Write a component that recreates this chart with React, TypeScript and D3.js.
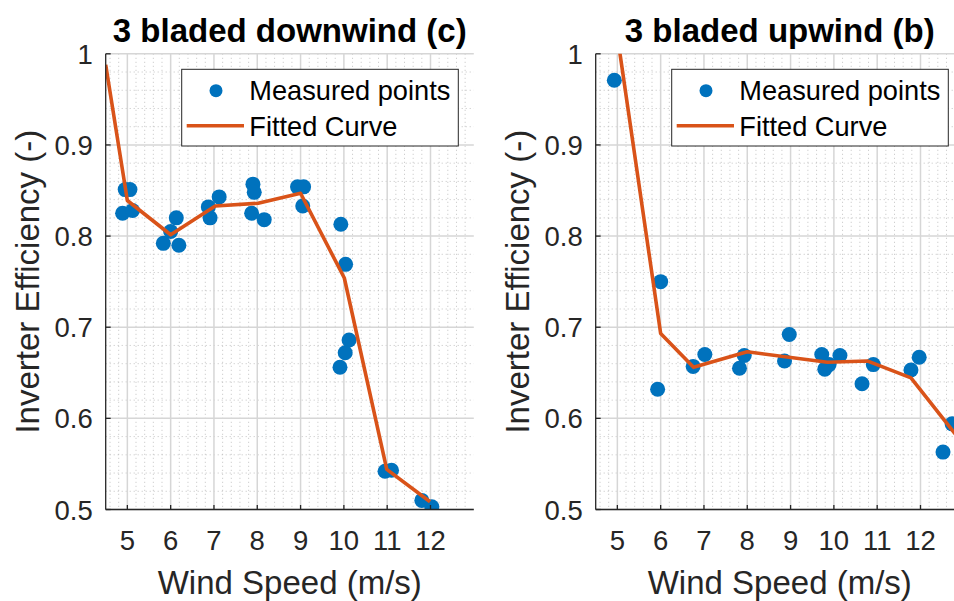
import React from 'react';
import * as d3 from 'd3';

// ---- data ----
const xTicks = [5, 6, 7, 8, 9, 10, 11, 12];
const xTickLabels = ['5', '6', '7', '8', '9', '10', '11', '12'];
const yTicks = [0.5, 0.6, 0.7, 0.8, 0.9, 1];
const yTickLabels = ['0.5', '0.6', '0.7', '0.8', '0.9', '1'];

const downMeasX = [4.95, 5.06, 4.89, 5.12, 5.83, 6.0, 6.19, 6.13, 6.87, 6.91, 7.12, 7.9, 7.93, 7.87, 8.16, 8.93, 9.07, 9.05, 9.93, 10.04, 10.12, 10.03, 9.91, 10.95, 11.1, 11.8, 12.03];
const downMeasY = [0.851, 0.851, 0.825, 0.828, 0.792, 0.805, 0.790, 0.820, 0.832, 0.820, 0.843, 0.857, 0.848, 0.825, 0.818, 0.854, 0.854, 0.833, 0.813, 0.769, 0.686, 0.672, 0.656, 0.542, 0.543, 0.510, 0.503];
const downFitX = [4.5, 5, 6, 7.03, 8.02, 9.0, 10.01, 10.99, 11.99];
const downFitY = [0.988, 0.839, 0.8015, 0.833, 0.836, 0.847, 0.754, 0.544, 0.5085];

const upMeasX = [4.93, 6.0, 5.93, 6.75, 7.02, 7.82, 7.93, 8.86, 8.97, 9.72, 9.79, 9.89, 10.14, 10.65, 10.91, 11.78, 11.97, 12.52, 12.73];
const upMeasY = [0.971, 0.75, 0.632, 0.657, 0.670, 0.655, 0.669, 0.663, 0.692, 0.670, 0.654, 0.659, 0.669, 0.638, 0.659, 0.653, 0.667, 0.563, 0.594];
const upFitX = [5, 6, 6.76, 8, 9.85, 10.77, 11.78, 12.8];
const upFitY = [1.02, 0.693, 0.656, 0.673, 0.6615, 0.663, 0.6444, 0.583];

const legendLabels = ['Measured points', 'Fitted Curve'];
const xLabel = 'Wind Speed (m/s)';
const yLabel = 'Inverter Efficiency (-)';

// ---- style ----
const BLUE = '#0072BD';
const ORANGE = '#D95319';
const AX = '#262626';
const FONT = '"Liberation Sans", Arial, Helvetica, sans-serif';

const TOP = 53.8;
const BOTTOM = 509.5;
const WIDTH = 368.1;

type PanelProps = {
  id: string;
  left: number;
  title: string;
  mx: number[];
  my: number[];
  fx: number[];
  fy: number[];
};

function Panel({ id, left, title, mx, my, fx, fy }: PanelProps) {
  const x = d3.scaleLinear().domain([4.5, 13]).range([left, left + WIDTH]);
  const y = d3.scaleLinear().domain([0.5, 1]).range([BOTTOM, TOP]);
  const minorX = d3.range(4.6, 12.99, 0.2).filter((v) => Math.abs(v - Math.round(v)) > 0.01);
  const minorY = d3.range(0.52, 0.99, 0.02).filter((v) => Math.abs(v * 10 - Math.round(v * 10)) > 0.01);
  const line = d3
    .line<number>()
    .x((_, i) => x(fx[i]))
    .y((d) => y(d));
  const right = left + WIDTH;
  const lgW = 276.6;
  const lgL = right - 15.5 - lgW;
  const lgT = 69.3;
  const lgH = 76.7;
  return (
    <g>
      <defs>
        <clipPath id={id}>
          <rect x={left} y={TOP} width={WIDTH} height={BOTTOM - TOP} />
        </clipPath>
      </defs>
      <rect x={left} y={TOP} width={WIDTH} height={BOTTOM - TOP} fill="#fff" />
      {/* minor grid */}
      {minorX.map((v, i) => (
        <line key={'mx' + i} x1={x(v)} x2={x(v)} y1={TOP} y2={BOTTOM} stroke="#b0b0b0" strokeWidth={1} strokeDasharray="1 3" opacity={0.75} />
      ))}
      {minorY.map((v, i) => (
        <line key={'my' + i} x1={left} x2={right} y1={y(v)} y2={y(v)} stroke="#b0b0b0" strokeWidth={1} strokeDasharray="1 3" opacity={0.75} />
      ))}
      {/* major grid */}
      {xTicks.map((v, i) => (
        <line key={'gx' + i} x1={x(v)} x2={x(v)} y1={TOP} y2={BOTTOM} stroke="#d6d6d6" strokeWidth={1.5} />
      ))}
      {yTicks.map((v, i) => (
        <line key={'gy' + i} x1={left} x2={right} y1={y(v)} y2={y(v)} stroke="#d6d6d6" strokeWidth={1.5} />
      ))}
      {/* data */}
      <g clipPath={`url(#${id})`}>
        {mx.map((v, i) => (
          <circle key={'p' + i} cx={x(v)} cy={y(my[i])} r={7.5} fill={BLUE} />
        ))}
        <path d={line(fy) || ''} fill="none" stroke={ORANGE} strokeWidth={3.6} strokeLinejoin="round" />
      </g>
      {/* axes */}
      <line x1={left} x2={left} y1={TOP} y2={BOTTOM} stroke={AX} strokeWidth={1.3} />
      <line x1={left} x2={right} y1={BOTTOM} y2={BOTTOM} stroke={AX} strokeWidth={1.3} />
      {xTicks.map((v, i) => (
        <line key={'tx' + i} x1={x(v)} x2={x(v)} y1={BOTTOM} y2={BOTTOM - 4.5} stroke={AX} strokeWidth={1.3} />
      ))}
      {yTicks.map((v, i) => (
        <line key={'ty' + i} x1={left} x2={left + 5} y1={y(v)} y2={y(v)} stroke={AX} strokeWidth={1.3} />
      ))}
      {xTicks.map((v, i) => (
        <text key={'lx' + i} x={x(v)} y={550} textAnchor="middle" fontSize={27.5} fill={AX} fontFamily={FONT}>
          {xTickLabels[i]}
        </text>
      ))}
      {yTicks.map((v, i) => (
        <text key={'ly' + i} x={left - 13} y={y(v) + 10} textAnchor="end" fontSize={27.5} fill={AX} fontFamily={FONT}>
          {yTickLabels[i]}
        </text>
      ))}
      <text x={(left + right) / 2} y={594} textAnchor="middle" fontSize={33} fill={AX} fontFamily={FONT}>
        {xLabel}
      </text>
      <text
        transform={`translate(${left - 67},${(TOP + BOTTOM) / 2}) rotate(-90)`}
        textAnchor="middle"
        fontSize={33}
        fill={AX}
        fontFamily={FONT}
      >
        {yLabel}
      </text>
      <text x={(left + right) / 2} y={42} textAnchor="middle" fontSize={33} fontWeight="bold" fill="#000" fontFamily={FONT}>
        {title}
      </text>
      {/* legend */}
      <rect x={lgL} y={lgT} width={lgW} height={lgH} fill="#fff" stroke={AX} strokeWidth={1} />
      <circle cx={lgL + 34.3} cy={lgT + 21.4} r={6.5} fill={BLUE} />
      <line x1={lgL + 5} x2={lgL + 62.3} y1={lgT + 56.4} y2={lgT + 56.4} stroke={ORANGE} strokeWidth={3.6} />
      <text x={lgL + 67.6} y={lgT + 30.7} fontSize={27.2} fill="#000" fontFamily={FONT}>
        {legendLabels[0]}
      </text>
      <text x={lgL + 67.6} y={lgT + 66.7} fontSize={27.2} fill="#000" fontFamily={FONT}>
        {legendLabels[1]}
      </text>
    </g>
  );
}

export default function App() {
  return (
    <svg
      width={954}
      height={601}
      viewBox="0 0 954 601"
      style={{ position: 'absolute', left: 0, top: 0, background: '#fff' }}
    >
      <rect x={0} y={0} width={954} height={601} fill="#fff" />
      <Panel id="clipL" left={105.7} title="3 bladed downwind (c)" mx={downMeasX} my={downMeasY} fx={downFitX} fy={downFitY} />
      <Panel id="clipR" left={595.7} title="3 bladed upwind (b)" mx={upMeasX} my={upMeasY} fx={upFitX} fy={upFitY} />
    </svg>
  );
}
